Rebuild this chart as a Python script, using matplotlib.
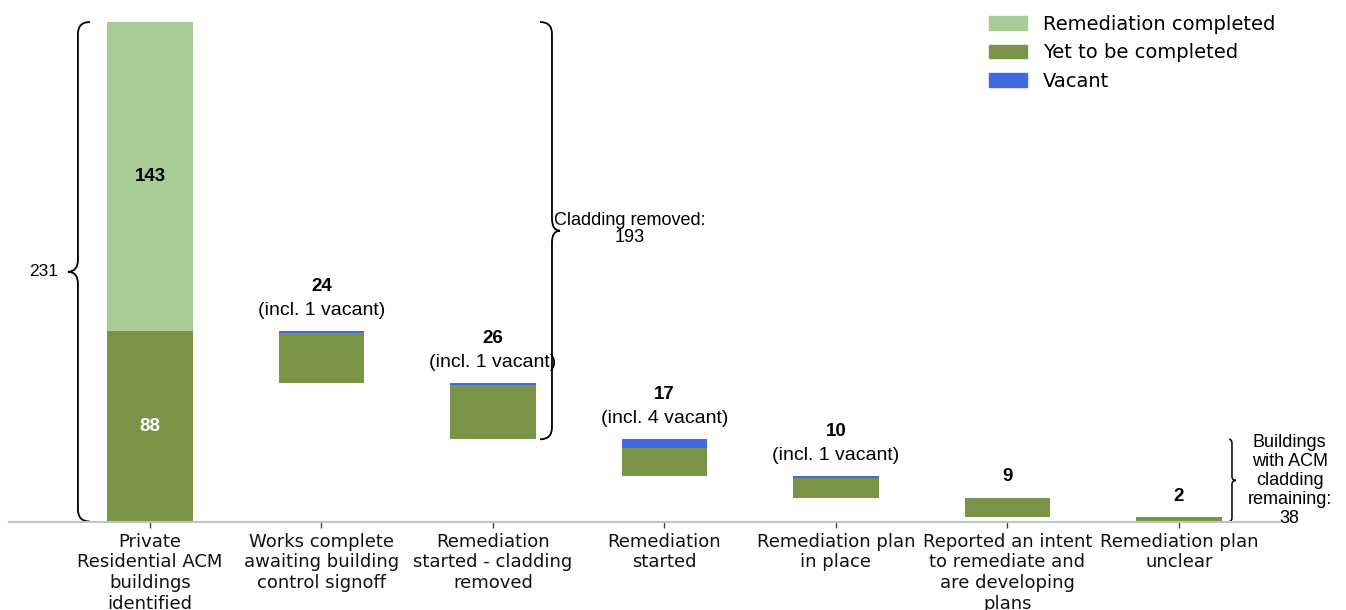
import numpy as np
import matplotlib
matplotlib.use("Agg")
import matplotlib.pyplot as plt
from matplotlib.path import Path
from matplotlib.patches import PathPatch, Patch

# ---------------- data ----------------
categories = [
    "Private\nResidential ACM\nbuildings\nidentified",
    "Works complete\nawaiting building\ncontrol signoff",
    "Remediation\nstarted - cladding\nremoved",
    "Remediation\nstarted",
    "Remediation plan\nin place",
    "Reported an intent\nto remediate and\nare developing\nplans",
    "Remediation plan\nunclear",
]
completed = 143
yet_to_complete = 88
step_values = [24, 26, 17, 10, 9, 2]
step_vacant = [1, 1, 4, 1, 0, 0]
cladding_removed = 193
remaining = 38

# ---------------- style ----------------
C_LIGHT = "#a9cb95"
C_DARK = "#799448"
C_BLUE = "#4169e1"
ANNOT_FONT = "Liberation Sans"

fig = plt.figure(figsize=(13.46, 6.10), dpi=100)
W, H = 1346, 610
ax = fig.add_axes([9 / W, (H - 521.5) / H, 1271 / W, 499.5 / H])

x = np.arange(len(categories))
bw = 0.5

# first stacked bar
ax.bar(x[0], yet_to_complete, bw, color=C_DARK)
ax.bar(x[0], completed, bw, bottom=yet_to_complete, color=C_LIGHT)
total = completed + yet_to_complete

# waterfall steps (vacant part sits on top of each step)
top = yet_to_complete
step_tops = []
for i, (v, n) in enumerate(zip(step_values, step_vacant)):
    bottom = top - v
    ax.bar(x[i + 1], v - n, bw, bottom=bottom, color=C_DARK)
    if n > 0:
        ax.bar(x[i + 1], n, bw, bottom=top - n, color=C_BLUE)
    step_tops.append(top)
    top = bottom

ax.set_xlim(-0.822, 6.589)
ax.set_ylim(0, total)

# bar labels
ax.text(x[0], yet_to_complete + completed / 2, str(completed), ha="center", va="center",
        fontsize=13.5, fontweight="bold", family=ANNOT_FONT, color="black")
ax.text(x[0], yet_to_complete / 2, str(yet_to_complete), ha="center", va="center",
        fontsize=13.5, fontweight="bold", family=ANNOT_FONT, color="white")
for i, (v, n) in enumerate(zip(step_values, step_vacant)):
    xi, t = x[i + 1], step_tops[i]
    if n > 0:
        ax.annotate(str(v), (xi, t), xytext=(0, 45), textcoords="offset pixels",
                    ha="center", va="center", fontsize=13.5, fontweight="bold", family=ANNOT_FONT)
        ax.annotate(f"(incl. {n} vacant)", (xi, t), xytext=(0, 21), textcoords="offset pixels",
                    ha="center", va="center", fontsize=14, family=ANNOT_FONT)
    else:
        ax.annotate(str(v), (xi, t), xytext=(0, 21), textcoords="offset pixels",
                    ha="center", va="center", fontsize=13.5, fontweight="bold", family=ANNOT_FONT)


# curly braces, built in pixel space then mapped back to data
def brace(xd, y0, y1, d, e, r, t, lw=1.3):
    (X, Yb), = ax.transData.transform([(xd, y0)])
    (_, Yt), = ax.transData.transform([(xd, y1)])
    Ym = (Yb + Yt) / 2
    pts = [(X - d * e, Yt), (X, Yt), (X, Yt - r),
           (X, Ym + r), (X, Ym), (X + d * t, Ym),
           (X, Ym), (X, Ym - r),
           (X, Yb + r), (X, Yb), (X - d * e, Yb)]
    codes = [Path.MOVETO, Path.CURVE3, Path.CURVE3,
             Path.LINETO, Path.CURVE3, Path.CURVE3,
             Path.CURVE3, Path.CURVE3,
             Path.LINETO, Path.CURVE3, Path.CURVE3]
    data_pts = ax.transData.inverted().transform(pts)
    ax.add_patch(PathPatch(Path(data_pts, codes), fill=False, lw=lw, ec="black", clip_on=False))


brace(-0.42, 0, total, -1, 12, 12, 10)
ax.text(-0.622, total / 2, str(total), ha="center", va="center", fontsize=12.5, family=ANNOT_FONT)

brace(2.344, remaining, total, 1, 12, 12, 8)
ax.text(2.8, remaining + cladding_removed / 2 + 1, f"Cladding removed:\n{cladding_removed}",
        ha="center", va="center", fontsize=13, family=ANNOT_FONT, linespacing=1.0)

brace(6.309, 0, remaining, 1, 3, 4, 4, lw=1.1)
ax.text(6.645, remaining / 2, f"Buildings\nwith ACM\ncladding\nremaining:\n{remaining}",
        ha="center", va="center", fontsize=13, family=ANNOT_FONT, linespacing=1.15)

# axes styling
for s in ["top", "right", "left"]:
    ax.spines[s].set_visible(False)
ax.spines["bottom"].set_color("#c4c4c4")
ax.spines["bottom"].set_linewidth(1.5)
ax.set_yticks([])
ax.set_xticks(x)
ax.set_xticklabels(categories, fontsize=13, color="#111111")
ax.tick_params(axis="x", length=4, width=1, color="#444444", pad=4)

handles = [Patch(color=C_LIGHT), Patch(color=C_DARK), Patch(color=C_BLUE)]
ax.legend(handles, ["Remediation completed", "Yet to be completed", "Vacant"],
          loc="upper left", bbox_to_anchor=(971 / W, 1 + 3 / H),
          bbox_transform=fig.transFigure, frameon=False, fontsize=14)

fig.savefig("out.png", dpi=100)
